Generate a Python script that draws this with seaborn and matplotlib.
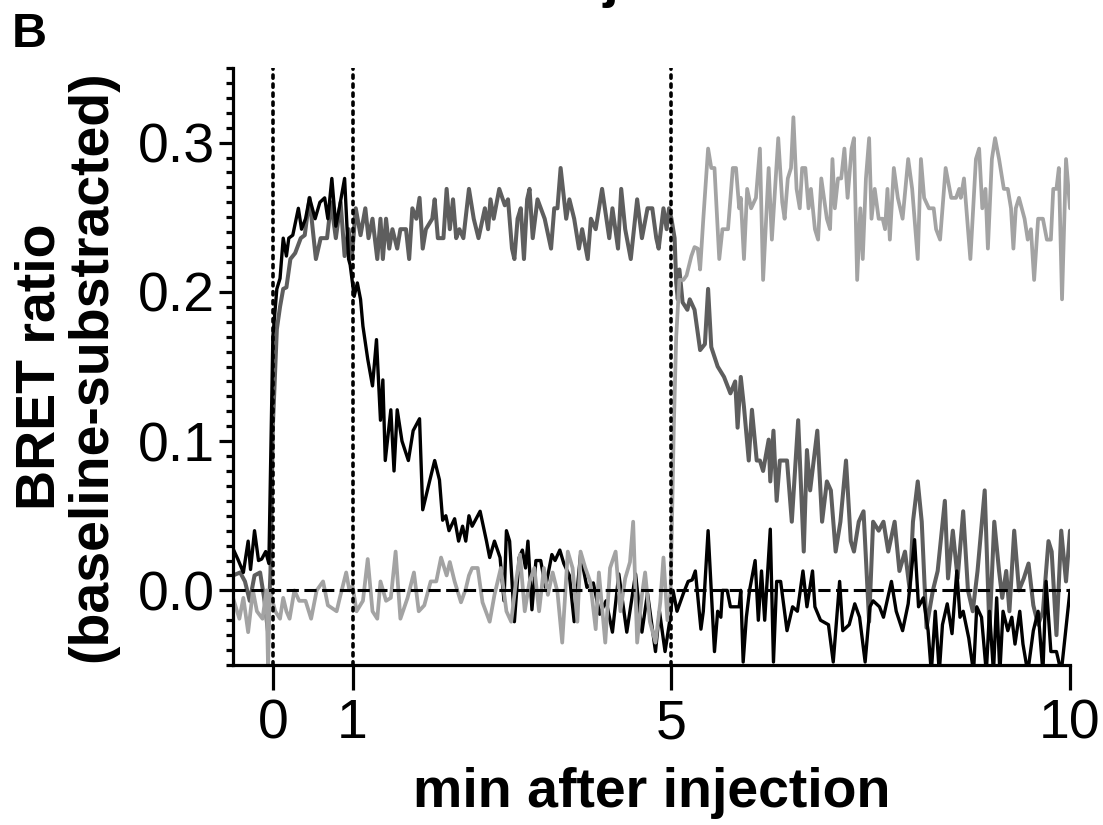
import matplotlib
matplotlib.use("Agg")
import matplotlib.pyplot as plt
from matplotlib.ticker import MultipleLocator
import pandas as pd
import seaborn as sns

# ---------------- data ----------------
t_black = [-0.5, -0.44, -0.37, -0.31, -0.28, -0.23, -0.18, -0.14, -0.09, -0.05,
           -0.02, 0.0, 0.05, 0.09, 0.13, 0.17, 0.2, 0.25, 0.32, 0.36,
           0.41, 0.46, 0.53, 0.59, 0.65, 0.69, 0.74, 0.79, 0.84, 0.9,
           0.95, 0.97, 1.02, 1.06, 1.1, 1.13, 1.19, 1.25, 1.3, 1.35,
           1.38, 1.41, 1.48, 1.52, 1.56, 1.62, 1.7, 1.76, 1.84, 1.88,
           1.97, 2.03, 2.09, 2.13, 2.17, 2.21, 2.28, 2.33, 2.38, 2.42,
           2.46, 2.5, 2.6, 2.68, 2.72, 2.78, 2.85, 2.9, 2.93, 2.97,
           3.03, 3.09, 3.13, 3.17, 3.2, 3.25, 3.3, 3.36, 3.42, 3.5,
           3.54, 3.6, 3.65, 3.72, 3.78, 3.86, 3.94, 4.02, 4.1, 4.18,
           4.26, 4.34, 4.44, 4.55, 4.63, 4.7, 4.8, 4.85, 4.92, 4.98,
           5.02, 5.07, 5.15, 5.21, 5.26, 5.3, 5.37, 5.4, 5.46, 5.54,
           5.58, 5.62, 5.64, 5.7, 5.74, 5.85, 5.87, 5.9, 5.94, 5.98,
           6.05, 6.09, 6.13, 6.17, 6.24, 6.28, 6.32, 6.37, 6.45, 6.52,
           6.58, 6.65, 6.7, 6.77, 6.8, 6.87, 6.97, 7.03, 7.11, 7.15,
           7.23, 7.3, 7.36, 7.43, 7.49, 7.53, 7.61, 7.66, 7.76, 7.82,
           7.9, 7.97, 8.05, 8.1, 8.16, 8.22, 8.26, 8.31, 8.36, 8.4,
           8.46, 8.52, 8.58, 8.62, 8.66, 8.73, 8.79, 8.83, 8.89, 8.95,
           8.99, 9.04, 9.08, 9.12, 9.16, 9.22, 9.27, 9.31, 9.37, 9.41,
           9.47, 9.54, 9.6, 9.66, 9.7, 9.76, 9.83, 9.89, 10.0]
v_black = [0.028, 0.021, 0.012, 0.033, 0.014, 0.040, 0.020, 0.021, 0.026, 0.018,
           0.107, 0.170, 0.202, 0.209, 0.236, 0.224, 0.236, 0.238, 0.256, 0.242,
           0.249, 0.263, 0.249, 0.260, 0.263, 0.249, 0.276, 0.244, 0.258, 0.276,
           0.222, 0.218, 0.197, 0.206, 0.195, 0.177, 0.155, 0.137, 0.168, 0.114,
           0.141, 0.087, 0.121, 0.080, 0.121, 0.100, 0.087, 0.107, 0.115, 0.054,
           0.074, 0.087, 0.074, 0.047, 0.050, 0.040, 0.048, 0.033, 0.043, 0.033,
           0.050, 0.043, 0.053, 0.033, 0.022, 0.033, 0.022, -0.007, 0.040, 0.033,
           -0.021, 0.022, 0.027, 0.015, 0.033, -0.013, 0.020, 0.020, 0.002, 0.024,
           0.020, 0.027, 0.018, 0.010, -0.021, 0.024, 0.002, 0.005, -0.016, -0.007,
           -0.028, 0.011, -0.028, 0.011, -0.028, -0.002, -0.041, -0.014, -0.041, -0.020,
           0.000, -0.014, -0.002, 0.006, 0.007, 0.013, -0.026, -0.014, 0.040, -0.041,
           -0.014, -0.018, 0.000, 0.000, -0.011, -0.011, 0.000, -0.048, -0.018, 0.000,
           0.020, -0.020, 0.013, -0.020, 0.041, -0.048, 0.006, 0.006, -0.027, -0.011,
           -0.014, 0.013, -0.011, 0.013, -0.011, -0.020, -0.023, -0.048, 0.006, -0.027,
           -0.023, -0.009, -0.018, -0.048, -0.011, -0.007, -0.011, -0.018, 0.006, -0.014,
           -0.027, -0.009, 0.034, -0.011, -0.005, -0.027, -0.055, -0.014, -0.055, -0.023,
           -0.009, -0.029, 0.013, -0.018, -0.014, -0.032, -0.055, -0.011, -0.018, -0.055,
           -0.014, -0.055, -0.005, -0.055, -0.014, -0.027, -0.018, -0.036, -0.014, -0.036,
           -0.055, -0.027, -0.014, -0.055, 0.006, -0.041, -0.041, -0.055, 0.000]

t_dark = [-0.5, -0.41, -0.35, -0.29, -0.23, -0.16, -0.11, -0.06, -0.03, 0.0,
          0.05, 0.09, 0.13, 0.17, 0.22, 0.28, 0.35, 0.4, 0.46, 0.5,
          0.54, 0.6, 0.68, 0.73, 0.79, 0.85, 0.9, 0.95, 0.99, 1.04,
          1.1, 1.16, 1.2, 1.25, 1.31, 1.35, 1.38, 1.42, 1.46, 1.5,
          1.56, 1.6, 1.67, 1.71, 1.75, 1.8, 1.84, 1.88, 1.92, 2.0,
          2.03, 2.07, 2.14, 2.18, 2.22, 2.26, 2.3, 2.34, 2.39, 2.46,
          2.52, 2.58, 2.66, 2.7, 2.73, 2.77, 2.84, 2.91, 2.95, 3.0,
          3.03, 3.07, 3.11, 3.15, 3.19, 3.22, 3.26, 3.32, 3.41, 3.49,
          3.53, 3.57, 3.61, 3.68, 3.72, 3.78, 3.84, 3.88, 3.95, 3.99,
          4.05, 4.13, 4.22, 4.26, 4.33, 4.37, 4.42, 4.49, 4.57, 4.63,
          4.7, 4.76, 4.81, 4.84, 4.9, 4.94, 4.97, 5.0, 5.04, 5.06,
          5.08, 5.1, 5.14, 5.2, 5.23, 5.29, 5.36, 5.42, 5.46, 5.5,
          5.58, 5.66, 5.74, 5.8, 5.83, 5.87, 5.91, 5.97, 6.01, 6.07,
          6.11, 6.15, 6.22, 6.24, 6.28, 6.32, 6.36, 6.45, 6.51, 6.59,
          6.66, 6.7, 6.74, 6.83, 6.89, 6.95, 7.0, 7.06, 7.12, 7.19,
          7.25, 7.29, 7.35, 7.41, 7.48, 7.53, 7.6, 7.66, 7.72, 7.8,
          7.86, 7.93, 7.99, 8.03, 8.09, 8.14, 8.2, 8.28, 8.34, 8.43,
          8.47, 8.53, 8.59, 8.66, 8.72, 8.78, 8.84, 8.93, 8.99, 9.05,
          9.11, 9.15, 9.2, 9.24, 9.3, 9.36, 9.42, 9.48, 9.54, 9.6,
          9.66, 9.73, 9.77, 9.83, 9.89, 9.95, 10.0]
v_dark = [0.010, 0.012, 0.006, -0.007, 0.010, 0.012, -0.005, -0.028, 0.012, 0.110,
          0.175, 0.190, 0.202, 0.203, 0.222, 0.226, 0.236, 0.238, 0.263, 0.242,
          0.222, 0.236, 0.236, 0.260, 0.236, 0.260, 0.224, 0.242, 0.222, 0.256,
          0.238, 0.256, 0.236, 0.249, 0.222, 0.249, 0.222, 0.249, 0.229, 0.242,
          0.229, 0.242, 0.242, 0.222, 0.256, 0.249, 0.263, 0.229, 0.242, 0.249,
          0.262, 0.236, 0.236, 0.269, 0.242, 0.262, 0.236, 0.242, 0.236, 0.269,
          0.249, 0.236, 0.256, 0.242, 0.262, 0.249, 0.269, 0.258, 0.262, 0.229,
          0.222, 0.249, 0.256, 0.222, 0.262, 0.269, 0.236, 0.262, 0.249, 0.229,
          0.256, 0.256, 0.283, 0.249, 0.262, 0.249, 0.229, 0.242, 0.222, 0.249,
          0.242, 0.269, 0.236, 0.256, 0.229, 0.269, 0.242, 0.222, 0.262, 0.236,
          0.256, 0.256, 0.236, 0.229, 0.256, 0.242, 0.256, 0.249, 0.236, 0.206,
          0.195, 0.215, 0.193, 0.188, 0.195, 0.188, 0.161, 0.165, 0.202, 0.163,
          0.150, 0.143, 0.132, 0.140, 0.109, 0.143, 0.123, 0.087, 0.121, 0.087,
          0.087, 0.080, 0.101, 0.073, 0.107, 0.060, 0.087, 0.087, 0.046, 0.114,
          0.026, 0.094, 0.067, 0.107, 0.046, 0.073, 0.067, 0.026, 0.046, 0.087,
          0.033, 0.026, 0.046, 0.053, -0.021, 0.046, 0.040, 0.046, 0.026, 0.046,
          0.013, 0.026, 0.000, 0.046, 0.073, 0.046, -0.025, 0.000, 0.013, 0.060,
          0.008, 0.040, 0.008, 0.053, 0.000, -0.014, 0.013, 0.067, -0.027, 0.046,
          0.013, -0.005, 0.013, -0.014, 0.040, 0.000, 0.008, 0.018, -0.010, -0.023,
          -0.014, 0.033, 0.026, -0.030, 0.040, 0.006, 0.040]

t_light = [-0.5, -0.42, -0.37, -0.31, -0.25, -0.2, -0.13, -0.08, -0.06, -0.04,
           0.03, 0.09, 0.13, 0.17, 0.21, 0.27, 0.33, 0.41, 0.48, 0.55,
           0.63, 0.69, 0.8, 0.84, 0.92, 0.96, 1.0, 1.05, 1.13, 1.19,
           1.25, 1.31, 1.35, 1.42, 1.48, 1.54, 1.6, 1.69, 1.77, 1.83,
           1.9, 1.98, 2.05, 2.11, 2.18, 2.22, 2.28, 2.36, 2.42, 2.46,
           2.5, 2.57, 2.63, 2.72, 2.78, 2.82, 2.86, 2.93, 2.99, 3.05,
           3.1, 3.16, 3.22, 3.28, 3.34, 3.4, 3.45, 3.51, 3.57, 3.63,
           3.7, 3.76, 3.82, 3.86, 3.92, 3.98, 4.05, 4.09, 4.17, 4.23,
           4.3, 4.36, 4.42, 4.48, 4.52, 4.57, 4.63, 4.67, 4.73, 4.8,
           4.86, 4.9, 4.95, 4.99, 5.03, 5.06, 5.1, 5.15, 5.19, 5.25,
           5.29, 5.33, 5.36, 5.4, 5.46, 5.5, 5.54, 5.6, 5.64, 5.71,
           5.77, 5.81, 5.85, 5.87, 5.91, 5.95, 6.0, 6.06, 6.11, 6.15,
           6.22, 6.26, 6.34, 6.39, 6.42, 6.46, 6.5, 6.53, 6.57, 6.61,
           6.64, 6.68, 6.72, 6.75, 6.8, 6.84, 6.88, 6.95, 6.99, 7.02,
           7.05, 7.09, 7.13, 7.17, 7.21, 7.26, 7.29, 7.33, 7.37, 7.4,
           7.44, 7.48, 7.51, 7.55, 7.6, 7.65, 7.68, 7.71, 7.74, 7.79,
           7.84, 7.9, 7.97, 8.02, 8.09, 8.13, 8.17, 8.23, 8.29, 8.32,
           8.37, 8.44, 8.51, 8.57, 8.61, 8.63, 8.67, 8.75, 8.82, 8.86,
           8.9, 8.94, 8.97, 9.02, 9.06, 9.11, 9.17, 9.22, 9.26, 9.29,
           9.32, 9.36, 9.43, 9.47, 9.51, 9.55, 9.6, 9.66, 9.71, 9.76,
           9.79, 9.83, 9.86, 9.9, 9.95, 10.0]
v_light = [-0.005, -0.019, -0.005, -0.028, 0.000, -0.014, -0.019, 0.000, -0.052, 0.000,
           -0.014, -0.019, -0.005, -0.014, -0.019, 0.000, -0.007, -0.007, -0.019, 0.000,
           0.006, -0.010, -0.014, -0.005, 0.012, 0.000, 0.003, -0.014, -0.007, 0.021,
           -0.014, -0.019, 0.006, -0.007, -0.005, 0.026, -0.019, -0.005, 0.012, -0.014,
           -0.010, 0.006, 0.006, 0.022, 0.010, 0.019, 0.006, -0.008, 0.001, 0.010,
           0.015, 0.015, -0.008, -0.021, -0.003, 0.006, 0.015, -0.014, -0.021, 0.006,
           0.024, -0.014, 0.006, 0.015, -0.014, 0.015, -0.003, 0.012, -0.001, -0.035,
           0.026, 0.015, -0.021, 0.026, 0.015, 0.006, -0.026, 0.012, -0.035, 0.015,
           0.026, -0.014, 0.008, 0.019, 0.046, -0.035, -0.003, 0.012, -0.021, -0.035,
           -0.008, 0.022, -0.020, 0.000, 0.110, 0.170, 0.208, 0.208, 0.211, 0.224,
           0.230, 0.229, 0.215, 0.249, 0.296, 0.283, 0.283, 0.222, 0.242, 0.242,
           0.283, 0.283, 0.256, 0.263, 0.222, 0.269, 0.256, 0.263, 0.296, 0.208,
           0.283, 0.235, 0.303, 0.260, 0.249, 0.276, 0.283, 0.317, 0.269, 0.256,
           0.283, 0.283, 0.256, 0.269, 0.242, 0.235, 0.276, 0.249, 0.242, 0.289,
           0.256, 0.276, 0.276, 0.296, 0.263, 0.296, 0.303, 0.208, 0.256, 0.222,
           0.276, 0.303, 0.249, 0.269, 0.249, 0.249, 0.242, 0.269, 0.235, 0.283,
           0.263, 0.249, 0.289, 0.269, 0.222, 0.289, 0.263, 0.256, 0.256, 0.242,
           0.235, 0.283, 0.263, 0.263, 0.269, 0.263, 0.276, 0.222, 0.289, 0.296,
           0.256, 0.269, 0.229, 0.289, 0.303, 0.289, 0.269, 0.269, 0.256, 0.229,
           0.256, 0.263, 0.249, 0.235, 0.242, 0.208, 0.249, 0.249, 0.235, 0.235,
           0.269, 0.269, 0.283, 0.195, 0.289, 0.256]

injection_times = [0, 1, 5]
x_ticks = [0, 1, 5, 10]
x_tick_labels = ["0", "1", "5", "10"]
y_ticks = [0.0, 0.1, 0.2, 0.3]
y_tick_labels = ["0.0", "0.1", "0.2", "0.3"]

# ---------------- style ----------------
sns.set_style("ticks")
plt.rcParams["font.family"] = ["Liberation Sans", "DejaVu Sans"]
plt.rcParams["text.color"] = "black"
plt.rcParams["axes.labelcolor"] = "black"
plt.rcParams["xtick.color"] = "black"
plt.rcParams["ytick.color"] = "black"

W, H = 1103, 825
fig = plt.figure(figsize=(W / 100, H / 100), dpi=100)
ax = fig.add_axes([233 / W, 1 - 665 / H, (1070 - 233) / W, (665 - 68) / H])

series = [
    (t_dark, v_dark, "#5e5e5e", 2.9),
    (t_black, v_black, "#000000", 2.4),
    (t_light, v_light, "#a3a3a3", 2.7),
]
for t, v, col, lw in series:
    df = pd.DataFrame({"t": t, "v": v})
    sns.lineplot(data=df, x="t", y="v", ax=ax, color=col, lw=lw,
                 estimator=None, sort=False, legend=False)

for xv in injection_times:
    ax.axvline(xv, color="black", lw=2.6, ls=(0, (0.9, 1.6)),
               dash_capstyle="round", zorder=5)
ax.axhline(0, color="black", lw=2.2, ls=(0, (4.0, 1.8)), zorder=4)

ax.set_xlim(-0.5, 10)
ax.set_ylim(-0.05, 0.35)
ax.set_xticks(x_ticks)
ax.set_xticklabels(x_tick_labels)
ax.set_yticks(y_ticks)
ax.set_yticklabels(y_tick_labels)
ax.yaxis.set_minor_locator(MultipleLocator(0.01))

for s in ["top", "right"]:
    ax.spines[s].set_visible(False)
for s in ["left", "bottom"]:
    ax.spines[s].set_linewidth(2.3)
    ax.spines[s].set_color("black")

ax.tick_params(axis="y", which="major", length=10, width=2.3, labelsize=40,
               pad=3, direction="out", colors="black")
ax.tick_params(axis="y", which="minor", length=5, width=2.3, direction="out",
               colors="black")
ax.tick_params(axis="x", which="major", length=18, width=2.3, labelsize=40,
               pad=6, direction="out", colors="black")

ax.set_xlabel("min after injection", fontsize=40, fontweight="bold",
              labelpad=12, color="black")
ax.set_ylabel("BRET ratio\n(baseline-substracted)", fontsize=40,
              fontweight="bold", linespacing=1.0, labelpad=14, color="black")

fig.text(12 / W, 1 - 47 / H, "B", fontsize=35, fontweight="bold",
         ha="left", va="baseline", color="black")
fig.text(668 / W, 1 + 4 / H, "injection", fontsize=40, fontweight="bold",
         ha="center", va="baseline", color="black")

fig.savefig("out.png", dpi=100)
